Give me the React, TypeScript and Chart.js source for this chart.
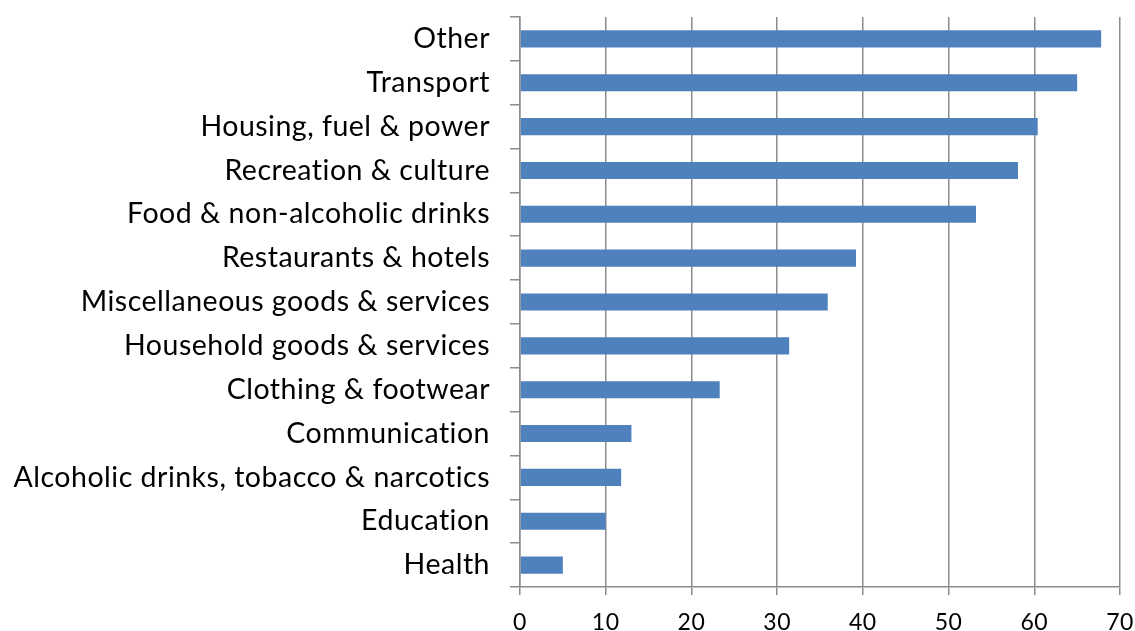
import React, { useEffect, useRef } from "react";
import { Chart, registerables } from "chart.js";

Chart.register(...registerables);

const categories = [
  "Other",
  "Transport",
  "Housing, fuel & power",
  "Recreation & culture",
  "Food & non-alcoholic drinks",
  "Restaurants & hotels",
  "Miscellaneous goods & services",
  "Household goods & services",
  "Clothing & footwear",
  "Communication",
  "Alcoholic drinks, tobacco & narcotics",
  "Education",
  "Health",
];

const values = [67.8, 65.0, 60.4, 58.1, 53.2, 39.2, 35.9, 31.4, 23.3, 13.0, 11.8, 10.0, 5.0];

const xMin = 0;
const xMax = 70;
const xStep = 10;

const spacingPlugin = {
  id: "spacing",
  beforeDraw: (chart: any) => {
    const ctx = chart.ctx as any;
    if ("letterSpacing" in ctx) ctx.letterSpacing = "0.5px";
  },
};

export default function App() {
  const ref = useRef<HTMLCanvasElement | null>(null);

  useEffect(() => {
    document.body.style.margin = "0";
    const canvas = ref.current;
    if (!canvas) return;
    const gridColor = "#8c8c8c";
    const chart = new Chart(canvas, {
      type: "bar",
      data: {
        labels: categories,
        datasets: [
          {
            data: values,
            backgroundColor: "#4f81bd",
            borderWidth: 0,
            barPercentage: 0.39,
            categoryPercentage: 1,
          },
        ],
      },
      plugins: [spacingPlugin],
      options: {
        indexAxis: "y",
        animation: false,
        responsive: false,
        maintainAspectRatio: false,
        layout: { padding: { top: 17, right: 15, left: 0, bottom: 0 } },
        plugins: {
          legend: { display: false },
          tooltip: { enabled: false },
        },
        scales: {
          x: {
            min: xMin,
            max: xMax,
            ticks: {
              stepSize: xStep,
              color: "#000",
              font: { family: "Lato, sans-serif", size: 23 },
              padding: 14,
            },
            grid: {
              color: gridColor,
              lineWidth: 1.5,
              tickLength: 8,
              drawOnChartArea: true,
            },
            border: { color: gridColor, width: 1.5 },
            afterFit: (s: any) => {
              s.height = 44;
              s.paddingLeft = 0;
              s.paddingRight = 0;
            },
          },
          y: {
            ticks: {
              color: "#000",
              font: { family: "Lato, sans-serif", size: 28.5 },
              padding: 20,
              autoSkip: false,
            },
            grid: {
              color: gridColor,
              lineWidth: 1.5,
              offset: true,
              drawOnChartArea: false,
              tickLength: 10,
            },
            border: { color: gridColor, width: 1.5 },
            afterFit: (s: any) => {
              s.width = 520;
              s.paddingTop = 0;
              s.paddingBottom = 0;
            },
          },
        },
      },
    });
    return () => chart.destroy();
  }, []);

  return (
    <div style={{ position: "fixed", left: 0, top: 0, width: 1135, height: 631 }}>
      <canvas ref={ref} width={1135} height={631} style={{ width: 1135, height: 631 }} />
    </div>
  );
}
